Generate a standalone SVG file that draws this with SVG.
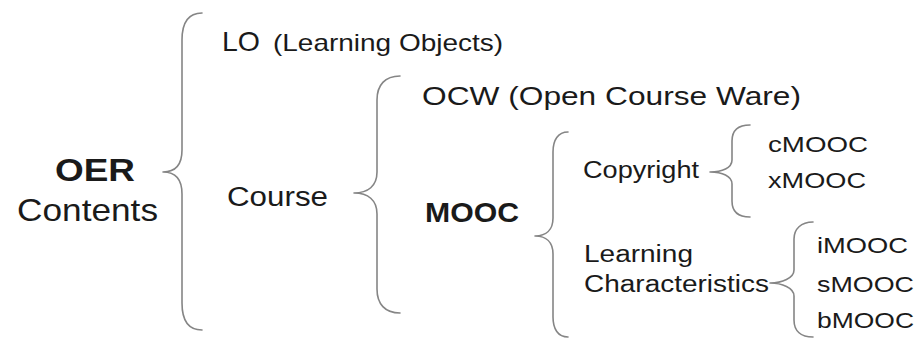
<svg xmlns="http://www.w3.org/2000/svg" width="924" height="341" viewBox="0 0 924 341">
  <style>
    text { font-family: "Liberation Sans", Arial, sans-serif; fill: #1a1a1a; }
    .b { font-weight: bold; }
    .brace { fill: none; stroke: #858585; stroke-width: 1.6; stroke-linecap: round; stroke-linejoin: round; }
  </style>
  <rect width="924" height="341" fill="#ffffff"/>

  <!-- curly braces linking each term to its sub-terms -->
  <g id="connectors">
    <path class="brace" d="M 202,13 C 188,13 182,22 182,40 L 182,150 C 182,165 175,172 163,172 C 175,172 182,179 182,194 L 182,303 C 182,321 188,330 202,330"/>
    <path class="brace" d="M 400,76 C 385,76 377,85 377,100 L 377,172 C 377,186 368,193 354,193 C 368,193 377,200 377,214 L 377,289 C 377,304 385,313 400,313"/>
    <path class="brace" d="M 568,132 C 558,132 553,140 553,152 L 553,218 C 553,230 546,236 535,236 C 546,236 553,242 553,254 L 553,317 C 553,329 558,337 568,337"/>
    <path class="brace" d="M 750,125 C 738,125 732,131 732,141 L 732,160 C 732,168 722,172 710,172 C 722,172 732,176 732,184 L 732,201 C 732,211 738,217 750,217"/>
    <path class="brace" d="M 813,222 C 801,222 794,229 794,239 L 794,270 C 794,278 782,283 770,283 C 782,283 794,288 794,296 L 794,320 C 794,331 801,337 813,337"/>
  </g>

  <g id="oer">
    <text class="b" x="55" y="181" font-size="32" textLength="80" lengthAdjust="spacingAndGlyphs">OER</text>
    <text x="17" y="221" font-size="32" textLength="141" lengthAdjust="spacingAndGlyphs">Contents</text>
  </g>

  <g id="lo">
    <text x="222" y="51" font-size="28" textLength="38" lengthAdjust="spacingAndGlyphs">LO</text>
    <text x="273" y="51" font-size="24" textLength="230" lengthAdjust="spacingAndGlyphs">(Learning Objects)</text>
  </g>

  <g id="course">
    <text x="227" y="206" font-size="27" textLength="101" lengthAdjust="spacingAndGlyphs">Course</text>
  </g>

  <g id="ocw">
    <text x="422" y="105" font-size="26" textLength="379" lengthAdjust="spacingAndGlyphs">OCW (Open Course Ware)</text>
  </g>

  <g id="mooc">
    <text class="b" x="425" y="222" font-size="28" textLength="94" lengthAdjust="spacingAndGlyphs">MOOC</text>
  </g>

  <g id="copyright">
    <text x="583" y="178" font-size="23" textLength="116" lengthAdjust="spacingAndGlyphs">Copyright</text>
  </g>

  <g id="learning-characteristics">
    <text x="584" y="262" font-size="23" textLength="109" lengthAdjust="spacingAndGlyphs">Learning</text>
    <text x="584" y="292" font-size="23" textLength="185" lengthAdjust="spacingAndGlyphs">Characteristics</text>
  </g>

  <g id="cmooc">
    <text x="768" y="152" font-size="22" textLength="100" lengthAdjust="spacingAndGlyphs">cMOOC</text>
  </g>
  <g id="xmooc">
    <text x="768" y="188" font-size="22" textLength="98" lengthAdjust="spacingAndGlyphs">xMOOC</text>
  </g>
  <g id="imooc">
    <text x="817" y="253" font-size="22" textLength="91" lengthAdjust="spacingAndGlyphs">iMOOC</text>
  </g>
  <g id="smooc">
    <text x="817" y="292" font-size="22" textLength="97" lengthAdjust="spacingAndGlyphs">sMOOC</text>
  </g>
  <g id="bmooc">
    <text x="817" y="328" font-size="22" textLength="97" lengthAdjust="spacingAndGlyphs">bMOOC</text>
  </g>
</svg>
